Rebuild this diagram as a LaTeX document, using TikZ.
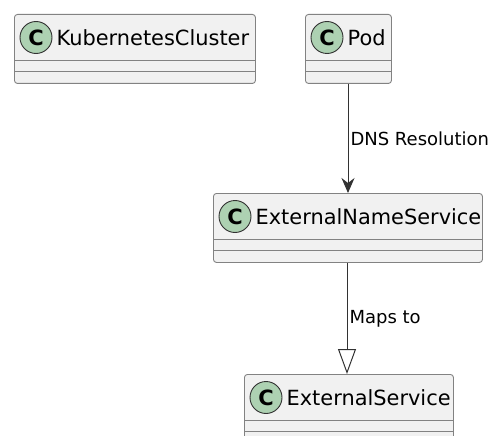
\documentclass[tikz,border=0pt]{standalone}
\usepackage{fontspec}
\setmainfont{DejaVu Sans}
\usepackage{tikz}
\usetikzlibrary{arrows.meta}
\usepackage{xcolor}
\definecolor{boxfill}{RGB}{241,241,241}
\definecolor{boxline}{RGB}{130,130,130}
\definecolor{circfill}{RGB}{173,209,178}
\definecolor{linkcol}{RGB}{50,50,50}

\tikzset{
    classbox/.style={draw=boxline, line width=0.9pt, fill=boxfill, rounded corners=3pt, minimum height=69pt, inner sep=0pt, anchor=north west},
    classline/.style={draw=boxline, line width=0.9pt},
    classcirc/.style={circle, draw=linkcol, line width=0.9pt, fill=circfill, minimum size=32pt, inner sep=0pt, font=\fontsize{21}{21}\selectfont\bfseries},
    classname/.style={anchor=west, inner sep=0pt, font=\fontsize{20.9}{21}\selectfont},
    linklabel/.style={midway, right, inner sep=2pt, font=\fontsize{18}{18}\selectfont},
    depends/.style={draw=linkcol, line width=1pt, -{Stealth[length=15pt, width=13pt, inset=5pt]}},
    extends/.style={draw=linkcol, line width=1pt, -{Triangle[open, length=25pt, width=18pt, fill=white]}}
}

\begin{document}
\begin{tikzpicture}[x=1pt, y=-1pt]
                \useasboundingbox (0,0) rectangle (493,436);
                % classes
                \node[classbox, minimum width=241pt] (kc) at (14,14) {};
                \node[classbox, minimum width=86pt] (pod) at (305,14) {};
                \node[classbox, minimum width=269pt] (ens) at (213,193) {};
                \node[classbox, minimum width=209pt] (es) at (244,374) {};
                \foreach \c in {kc,pod,ens,es} {
                        \draw[classline] ([yshift=-46pt]\c.north west) -- ([yshift=-46pt]\c.north east);
                        \draw[classline] ([yshift=-57pt]\c.north west) -- ([yshift=-57pt]\c.north east);
                        \node[classcirc] (\c-c) at ([xshift=22pt, yshift=-23.5pt]\c.north west) {C};
                    }
                \node[classname] (kc-n) at ([xshift=4pt]kc-c.east) {KubernetesCluster};
                \node[classname] (pod-n) at ([xshift=4pt]pod-c.east) {Pod};
                \node[classname] (ens-n) at ([xshift=4pt]ens-c.east) {ExternalNameService};
                \node[classname] (es-n) at ([xshift=4pt]es-c.east) {ExternalService};
                % relations
                \draw[depends] ([xshift=43pt]pod.south west) -- ([xshift=135pt]ens.north west) node[linklabel] {DNS Resolution};
                \draw[extends] ([xshift=134pt]ens.south west) -- ([xshift=103pt]es.north west) node[linklabel] {Maps to};
            \end{tikzpicture}
\end{document}
